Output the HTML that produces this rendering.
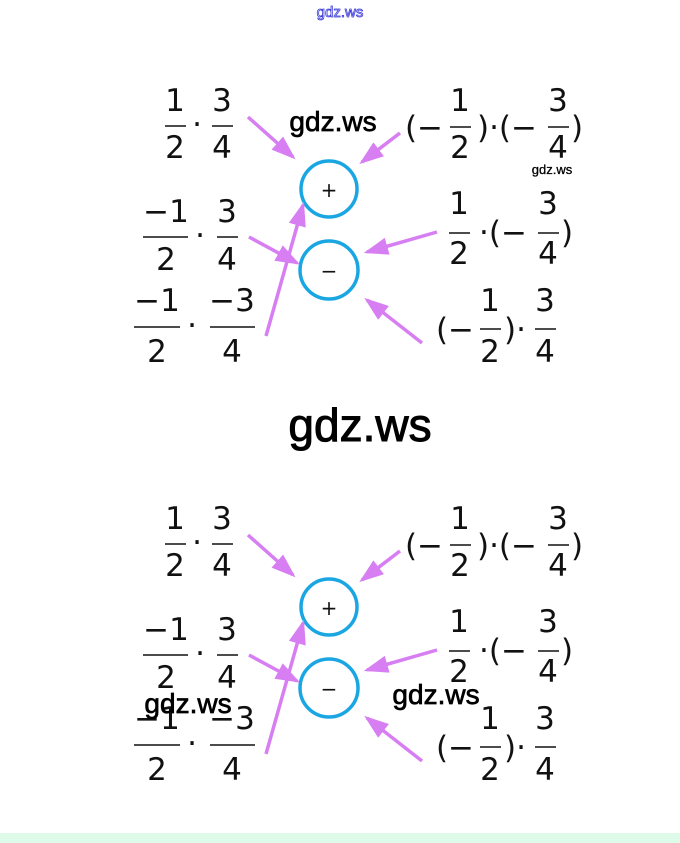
<!DOCTYPE html>
<html><head><meta charset="utf-8"><style>
html,body{margin:0;padding:0;background:#fff;width:680px;height:843px;overflow:hidden}
svg{display:block}
.m{font-family:"DejaVu Sans","Liberation Sans",sans-serif;font-size:31px;fill:#111;text-anchor:middle}
.w{font-family:"Liberation Sans",sans-serif;fill:#000;stroke:#000;stroke-width:0.7;text-anchor:middle}
.bar{stroke:#111;stroke-width:1.6}
.c{fill:none;stroke:#1aa6e2;stroke-width:3.5}
.a{stroke:#d77ff2;stroke-width:3.5;fill:#d77ff2}
</style></head><body>
<svg width="680" height="843" viewBox="0 0 680 843" xmlns="http://www.w3.org/2000/svg">
<defs>
<marker id="h" markerWidth="7" markerHeight="5" refX="6" refY="2.5" orient="auto" markerUnits="strokeWidth">
<path d="M0,0 L7,2.5 L0,5 Z" fill="#d77ff2"/></marker>
</defs>
<rect x="0" y="833" width="680" height="10" fill="#ddfbe8"/>
<text x="340" y="17" class="w" style="font-size:15px;fill:#fff;stroke:#3a3ad8;stroke-width:0.8">gdz.ws</text>

<g id="top">
<circle cx="329" cy="189" r="28" class="c"/>
<text x="329" y="197" class="m" style="font-size:20px">+</text>
<circle cx="329" cy="270" r="29" class="c"/>
<text x="329" y="278" class="m" style="font-size:20px">−</text>
<g class="a">
<line x1="248" y1="117" x2="293" y2="157" marker-end="url(#h)"/>
<line x1="400" y1="133" x2="362" y2="162" marker-end="url(#h)"/>
<line x1="249" y1="237" x2="297" y2="263" marker-end="url(#h)"/>
<line x1="266" y1="336" x2="303" y2="205" marker-end="url(#h)"/>
<line x1="437" y1="232" x2="367" y2="252" marker-end="url(#h)"/>
<line x1="422" y1="343" x2="367" y2="300" marker-end="url(#h)"/>
</g>
<text x="175" y="111" class="m">1</text><line x1="165" y1="126" x2="186" y2="126" class="bar"/><text x="175" y="158" class="m">2</text>
<text x="197" y="135" class="m">·</text>
<text x="222" y="111" class="m">3</text><line x1="212" y1="126" x2="233" y2="126" class="bar"/><text x="222" y="158" class="m">4</text>
<text x="424" y="138" class="m">(−</text>
<text x="460" y="111" class="m">1</text><line x1="450" y1="127" x2="471" y2="127" class="bar"/><text x="460" y="158" class="m">2</text>
<text x="507" y="138" class="m">)·(−</text>
<text x="558" y="111" class="m">3</text><line x1="548" y1="127" x2="569" y2="127" class="bar"/><text x="558" y="158" class="m">4</text>
<text x="577" y="138" class="m">)</text>
<text x="166" y="222" class="m">−1</text><line x1="143" y1="237" x2="188" y2="237" class="bar"/><text x="166" y="270" class="m">2</text>
<text x="200" y="246" class="m">·</text>
<text x="227" y="222" class="m">3</text><line x1="217" y1="237" x2="238" y2="237" class="bar"/><text x="227" y="270" class="m">4</text>
<text x="459" y="214" class="m">1</text><line x1="449" y1="233" x2="470" y2="233" class="bar"/><text x="459" y="264" class="m">2</text>
<text x="503" y="243" class="m">·(−</text>
<text x="548" y="214" class="m">3</text><line x1="538" y1="233" x2="559" y2="233" class="bar"/><text x="548" y="264" class="m">4</text>
<text x="567" y="243" class="m">)</text>
<text x="157" y="311" class="m">−1</text><line x1="134" y1="327" x2="180" y2="327" class="bar"/><text x="157" y="362" class="m">2</text>
<text x="192" y="336" class="m">·</text>
<text x="232" y="311" class="m">−3</text><line x1="210" y1="327" x2="255" y2="327" class="bar"/><text x="232" y="362" class="m">4</text>
<text x="455" y="340" class="m">(−</text>
<text x="490" y="311" class="m">1</text><line x1="480" y1="329" x2="501" y2="329" class="bar"/><text x="490" y="362" class="m">2</text>
<text x="515" y="340" class="m">)·</text>
<text x="545" y="311" class="m">3</text><line x1="535" y1="329" x2="556" y2="329" class="bar"/><text x="545" y="362" class="m">4</text>
</g>

<g transform="translate(0,418)">
<circle cx="329" cy="189" r="28" class="c"/>
<text x="329" y="197" class="m" style="font-size:20px">+</text>
<circle cx="329" cy="270" r="29" class="c"/>
<text x="329" y="278" class="m" style="font-size:20px">−</text>
<g class="a">
<line x1="248" y1="117" x2="293" y2="157" marker-end="url(#h)"/>
<line x1="400" y1="133" x2="362" y2="162" marker-end="url(#h)"/>
<line x1="249" y1="237" x2="297" y2="263" marker-end="url(#h)"/>
<line x1="266" y1="336" x2="303" y2="205" marker-end="url(#h)"/>
<line x1="437" y1="232" x2="367" y2="252" marker-end="url(#h)"/>
<line x1="422" y1="343" x2="367" y2="300" marker-end="url(#h)"/>
</g>
<text x="175" y="111" class="m">1</text><line x1="165" y1="126" x2="186" y2="126" class="bar"/><text x="175" y="158" class="m">2</text>
<text x="197" y="135" class="m">·</text>
<text x="222" y="111" class="m">3</text><line x1="212" y1="126" x2="233" y2="126" class="bar"/><text x="222" y="158" class="m">4</text>
<text x="424" y="138" class="m">(−</text>
<text x="460" y="111" class="m">1</text><line x1="450" y1="127" x2="471" y2="127" class="bar"/><text x="460" y="158" class="m">2</text>
<text x="507" y="138" class="m">)·(−</text>
<text x="558" y="111" class="m">3</text><line x1="548" y1="127" x2="569" y2="127" class="bar"/><text x="558" y="158" class="m">4</text>
<text x="577" y="138" class="m">)</text>
<text x="166" y="222" class="m">−1</text><line x1="143" y1="237" x2="188" y2="237" class="bar"/><text x="166" y="270" class="m">2</text>
<text x="200" y="246" class="m">·</text>
<text x="227" y="222" class="m">3</text><line x1="217" y1="237" x2="238" y2="237" class="bar"/><text x="227" y="270" class="m">4</text>
<text x="459" y="214" class="m">1</text><line x1="449" y1="233" x2="470" y2="233" class="bar"/><text x="459" y="264" class="m">2</text>
<text x="503" y="243" class="m">·(−</text>
<text x="548" y="214" class="m">3</text><line x1="538" y1="233" x2="559" y2="233" class="bar"/><text x="548" y="264" class="m">4</text>
<text x="567" y="243" class="m">)</text>
<text x="157" y="311" class="m">−1</text><line x1="134" y1="327" x2="180" y2="327" class="bar"/><text x="157" y="362" class="m">2</text>
<text x="192" y="336" class="m">·</text>
<text x="232" y="311" class="m">−3</text><line x1="210" y1="327" x2="255" y2="327" class="bar"/><text x="232" y="362" class="m">4</text>
<text x="455" y="340" class="m">(−</text>
<text x="490" y="311" class="m">1</text><line x1="480" y1="329" x2="501" y2="329" class="bar"/><text x="490" y="362" class="m">2</text>
<text x="515" y="340" class="m">)·</text>
<text x="545" y="311" class="m">3</text><line x1="535" y1="329" x2="556" y2="329" class="bar"/><text x="545" y="362" class="m">4</text>
</g>

<text x="333" y="131" class="w" style="font-size:28px">gdz.ws</text>
<text x="552" y="174" class="w" style="font-size:13px;stroke-width:0.3">gdz.ws</text>
<text x="360" y="441" class="w" style="font-size:46px;stroke-width:1">gdz.ws</text>
<text x="188" y="713" class="w" style="font-size:28px">gdz.ws</text>
<text x="436" y="704" class="w" style="font-size:28px">gdz.ws</text>
</svg>
</body></html>
